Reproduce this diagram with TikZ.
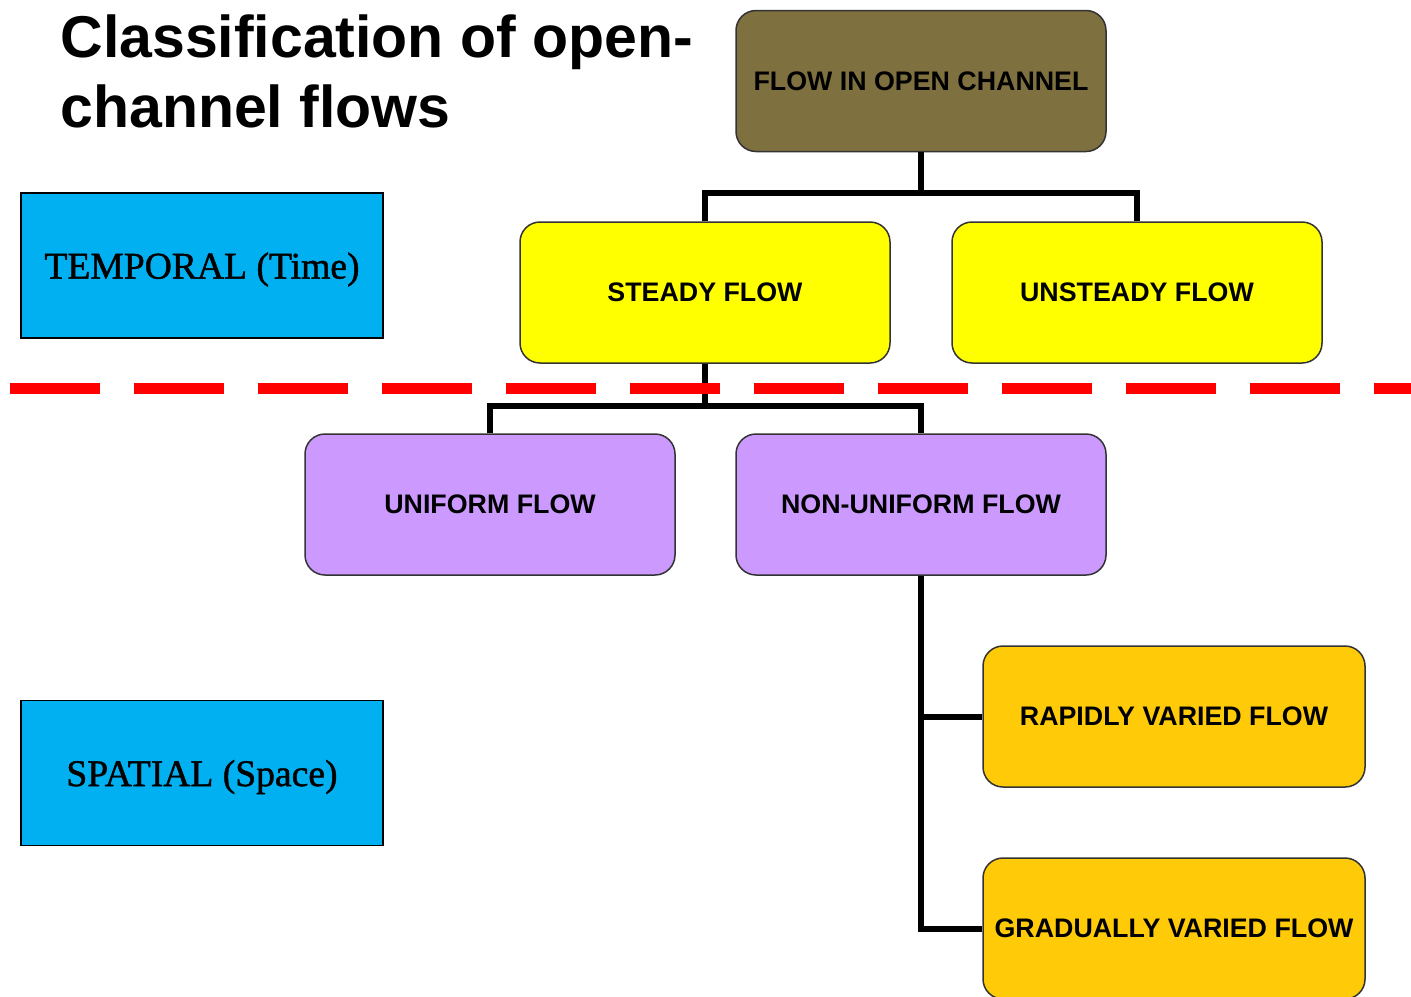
\documentclass[tikz,border=0pt]{standalone}
\usepackage{fontspec}
\setmainfont{Liberation Sans}
\newfontfamily\serifbox{Liberation Serif}[BoldFont={Liberation Serif},BoldFeatures={FakeBold=1.2}]
\definecolor{rootolive}{HTML}{7F7040}
\definecolor{steadyyellow}{HTML}{FFFF00}
\definecolor{uniformpurple}{HTML}{CC99FF}
\definecolor{variedorange}{HTML}{FFCA08}
\definecolor{sideblue}{HTML}{00B0F0}
\definecolor{dashred}{HTML}{FF0000}
\tikzset{
  flowbox/.style={draw=black!80, line width=0.75pt, rounded corners=10pt,
    minimum width=185pt, minimum height=70.5pt, inner sep=0pt,
    font=\fontsize{13.4}{16}\selectfont\bfseries, text=black},
  sidebox/.style={draw=black, line width=0.75pt, fill=sideblue,
    minimum width=181pt, minimum height=72.5pt, inner sep=0pt, text depth=0pt,
    font=\serifbox\bfseries\fontsize{18.8}{22}\selectfont, text=black},
  conn/.style={draw=black, line width=3pt},
  divider/.style={draw=dashred, line width=5.5pt, dash pattern=on 45pt off 17pt}
}
\begin{document}
\begin{tikzpicture}[x=0.5pt,y=-0.5pt]
\useasboundingbox (0,0) rectangle (1411,996);
% title
\node[anchor=north west, align=left, inner sep=0pt,
  font=\fontsize{29.5}{35}\selectfont\bfseries] (title) at (60,14)
  {Classification of open-\\channel flows};
% side labels
\node[sidebox] (temporal) at (202,265.5) {TEMPORAL (Time)};
\node[sidebox] (spatial) at (202,773) {SPATIAL (Space)};
% boxes
\node[flowbox, fill=rootolive] (root) at (921,81) {FLOW IN OPEN CHANNEL};
\node[flowbox, fill=steadyyellow] (steady) at (705,292.5) {STEADY FLOW};
\node[flowbox, fill=steadyyellow] (unsteady) at (1137,292.5) {UNSTEADY FLOW};
\node[flowbox, fill=uniformpurple] (uniform) at (490,504.5) {UNIFORM FLOW};
\node[flowbox, fill=uniformpurple] (nonuniform) at (921,504.5) {NON-UNIFORM FLOW};
\node[flowbox, fill=variedorange, minimum width=191pt] (rapid) at (1174,716.5) {RAPIDLY VARIED FLOW};
\node[flowbox, fill=variedorange, minimum width=191pt] (gradual) at (1174,928.5) {GRADUALLY VARIED FLOW};
% connectors
\coordinate (j1) at (921,193);
\coordinate (j2) at (705,406);
\draw[conn] (root.south) -- (j1);
\draw[conn] (steady.north) |- (j1) -| (unsteady.north);
\draw[conn] (steady.south) -- (j2);
\draw[conn] (uniform.north) |- (j2) -| (nonuniform.north);
\draw[conn] (nonuniform.south) |- (rapid.west);
\draw[conn] (nonuniform.south) |- (gradual.west);
% divider
\coordinate (dl) at (10,388);
\coordinate (dr) at (1411,388);
\draw[divider] (dl) -- (dr);
\end{tikzpicture}
\end{document}
